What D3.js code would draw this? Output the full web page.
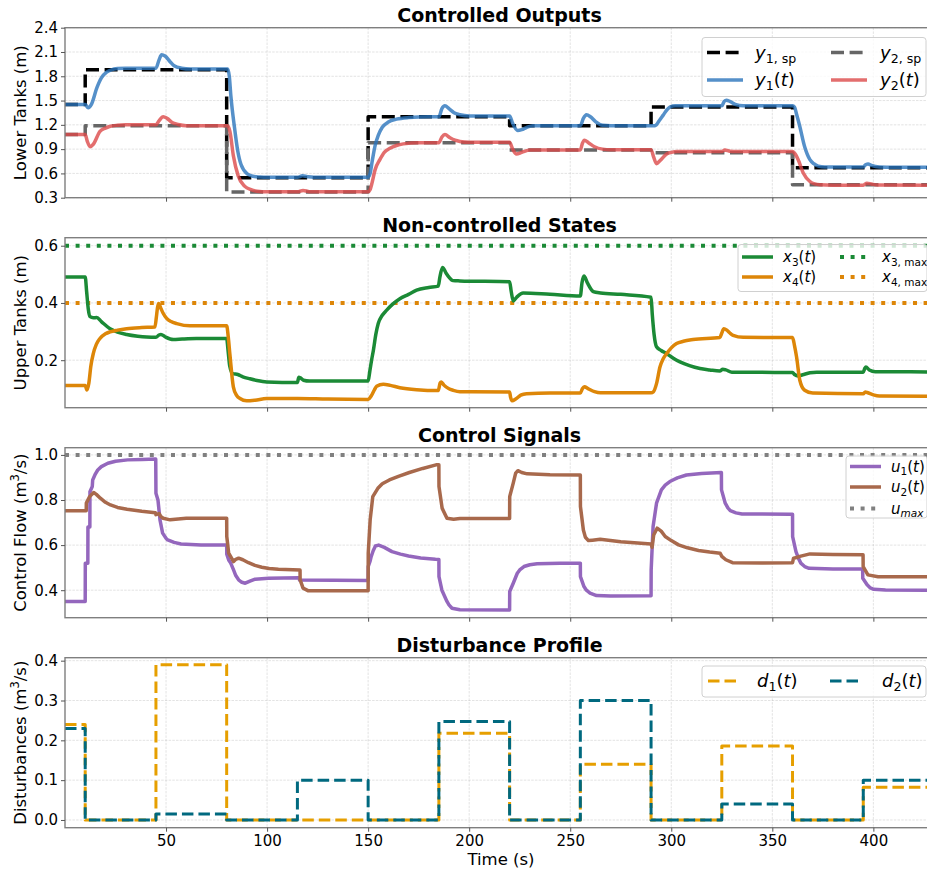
<!DOCTYPE html>
<html>
<head>
<meta charset="utf-8">
<script src="https://cdn.jsdelivr.net/npm/d3@7"></script>
<style>
  body { margin: 0; background: #fff; }
  svg { display: block; }
  text { font-family: "DejaVu Sans", sans-serif; fill: #000; }
</style>
</head>
<body>
<svg id="chart" width="927" height="873"></svg>
<script>
// ---------------- data ----------------
const timeTicks = [50, 100, 150, 200, 250, 300, 350, 400];

// set-point schedule (step changes)
const spTimes = [0, 10, 80, 150, 220, 290, 360, 430];
const y1Setpoint = [1.45, 1.88, 0.545, 1.30, 1.19, 1.42, 0.67, 0.67];
const y2Setpoint = [1.08, 1.19, 0.37, 0.98, 0.89, 0.855, 0.46, 0.46];

// lower tank levels [t, value]
const y1 = [[0,1.45],[10,1.45],[11.5,1.41],[13,1.45],[15.8,1.66],[18,1.78],[20.6,1.85],[23,1.88],[26,1.895],[30,1.90],[45,1.90],[46.5,2.0],[47.8,2.065],[49.5,2.05],[52,1.98],[54,1.93],[57.7,1.90],[62,1.89],[80.5,1.89],[81.3,1.8],[82.1,1.55],[83.8,1.18],[85.4,0.89],[87.1,0.71],[90.4,0.59],[93,0.565],[96.5,0.556],[100,0.553],[115,0.553],[117.5,0.57],[120,0.56],[123,0.553],[150,0.553],[151,0.6],[152,0.75],[153.5,0.95],[155,1.07],[157,1.17],[160,1.235],[164,1.27],[170,1.29],[180,1.30],[185,1.30],[186.5,1.40],[188,1.435],[190,1.40],[192.5,1.35],[195.4,1.325],[200,1.31],[220,1.31],[221.5,1.22],[224,1.13],[226,1.14],[228.5,1.17],[231.5,1.19],[255,1.19],[256.5,1.28],[258,1.325],[260,1.30],[262.5,1.24],[266,1.195],[270,1.19],[290,1.19],[292,1.19],[294,1.25],[296,1.32],[298,1.39],[299.3,1.42],[302,1.435],[325,1.435],[326.2,1.49],[327.3,1.505],[329,1.49],[332,1.45],[335.5,1.435],[360,1.435],[361,1.42],[362,1.33],[363.6,1.18],[366,0.93],[368.6,0.77],[370.5,0.72],[372.7,0.69],[376,0.68],[395,0.68],[396.3,0.71],[397.4,0.716],[399,0.70],[403,0.68],[410,0.675],[430,0.675]];
const y2 = [[0,1.08],[10,1.08],[11,1.0],[12.4,0.93],[14,0.96],[17.3,1.12],[20,1.16],[22,1.18],[26,1.195],[30,1.20],[45,1.20],[46.5,1.25],[48.6,1.30],[50.5,1.28],[53,1.23],[56,1.205],[60,1.19],[80.5,1.19],[81.6,1.12],[83.3,0.82],[85.7,0.57],[89,0.44],[92,0.40],[95,0.38],[100,0.372],[115,0.372],[117.8,0.39],[121,0.375],[150,0.372],[151,0.40],[151.7,0.46],[153.5,0.65],[155.8,0.77],[158,0.86],[160.8,0.91],[164,0.945],[167.4,0.965],[175,0.98],[185,0.98],[186.5,1.05],[188,1.08],[190.5,1.04],[193,1.01],[195.4,0.995],[200,0.985],[220,0.985],[221.5,0.90],[223.4,0.84],[226,0.86],[230,0.89],[255,0.89],[256,0.97],[257,1.01],[259,0.98],[262,0.93],[266,0.90],[270,0.893],[290,0.893],[291.3,0.80],[292.7,0.72],[294.5,0.76],[297.7,0.84],[300,0.86],[303,0.87],[325,0.87],[326.5,0.89],[329,0.875],[332,0.87],[360,0.87],[361,0.85],[362.8,0.77],[365.3,0.605],[368.6,0.50],[371,0.47],[373.5,0.46],[380,0.455],[395,0.455],[396.8,0.48],[399,0.47],[402,0.457],[430,0.455]];

// upper tank levels [t, value]
const x3 = [[0,0.491],[10,0.491],[10.7,0.44],[11.5,0.38],[12.4,0.352],[14,0.348],[15.7,0.349],[18,0.335],[22.3,0.31],[26,0.298],[30.5,0.29],[36,0.284],[40.4,0.281],[45,0.28],[46.5,0.288],[47.5,0.29],[49.5,0.282],[53.6,0.272],[58,0.274],[65,0.276],[80,0.276],[80.6,0.24],[81.5,0.18],[83,0.153],[85.5,0.15],[88,0.142],[91.5,0.135],[95,0.129],[99.8,0.124],[115,0.122],[115.7,0.14],[116.5,0.138],[118,0.13],[121,0.127],[150,0.127],[150.8,0.16],[151.7,0.2],[152.6,0.235],[153.8,0.29],[155,0.328],[157,0.357],[159.2,0.375],[162,0.395],[165.7,0.415],[170,0.43],[174,0.445],[180,0.454],[184.7,0.459],[185.5,0.49],[186.8,0.524],[188.5,0.505],[190,0.49],[192,0.478],[195.4,0.477],[220,0.474],[220.8,0.44],[221.8,0.407],[223.5,0.42],[226.7,0.435],[240,0.43],[255,0.424],[255.8,0.47],[256.8,0.494],[258.5,0.47],[261.4,0.44],[265,0.435],[275,0.43],[290,0.42],[290.6,0.36],[291.5,0.29],[292.7,0.247],[295,0.234],[297.7,0.223],[301,0.207],[304.3,0.194],[309,0.181],[314.2,0.171],[319,0.166],[324,0.162],[325.5,0.168],[327,0.166],[330,0.158],[360,0.157],[361,0.15],[362.8,0.145],[365,0.149],[368.6,0.156],[372,0.158],[395,0.158],[395.8,0.172],[396.3,0.176],[398,0.166],[401,0.16],[430,0.159]];
const x4 = [[0,0.112],[10,0.112],[10.8,0.096],[11.8,0.12],[12.8,0.18],[14,0.223],[15.5,0.255],[17.3,0.276],[20,0.292],[22.3,0.299],[26,0.305],[30.5,0.31],[38,0.314],[44.5,0.316],[45.2,0.35],[45.8,0.385],[46.3,0.398],[47.5,0.38],[48.5,0.365],[50.3,0.346],[52.5,0.335],[55.3,0.328],[61.8,0.32],[80,0.32],[80.8,0.28],[81.6,0.22],[83.3,0.107],[85,0.076],[86.6,0.066],[89.9,0.058],[94,0.06],[99.8,0.066],[115,0.066],[130,0.064],[150,0.063],[151.5,0.075],[153,0.095],[154.2,0.109],[157.5,0.116],[161,0.112],[165.7,0.104],[174,0.097],[184.7,0.094],[185.6,0.12],[186.2,0.124],[187.5,0.113],[190,0.1],[192,0.095],[195.4,0.09],[220,0.089],[220.5,0.07],[221.2,0.058],[223,0.064],[225.5,0.078],[228.4,0.083],[240,0.085],[255,0.085],[256,0.1],[257,0.107],[259,0.1],[262,0.09],[265,0.086],[290,0.086],[291.2,0.09],[292.7,0.118],[294.4,0.176],[296,0.205],[297.7,0.223],[300,0.243],[302.6,0.258],[306,0.266],[310.8,0.272],[324,0.279],[325,0.295],[326,0.31],[327.5,0.305],[329,0.295],[330.6,0.287],[335.6,0.28],[360,0.279],[361,0.25],[362,0.211],[363.6,0.13],[366,0.095],[370,0.085],[395,0.083],[396,0.089],[397,0.087],[400,0.079],[403,0.075],[430,0.074]];
const x3Max = 0.6;
const x4Max = 0.4;

// pump flows [t, value]
const u1 = [[0,0.35],[10,0.35],[10.05,0.52],[11.3,0.52],[11.35,0.68],[12.3,0.68],[12.35,0.837],[13.5,0.86],[13.7,0.889],[15,0.915],[16.2,0.933],[18,0.948],[21.2,0.963],[25,0.972],[31,0.978],[38,0.98],[44.9,0.982],[45,0.83],[46,0.80],[47,0.712],[48.3,0.653],[50,0.630],[50.8,0.623],[54,0.612],[57.4,0.605],[67.3,0.60],[80,0.60],[80.05,0.56],[81,0.534],[82,0.52],[83.4,0.49],[84.5,0.465],[85.9,0.446],[87.5,0.435],[89.2,0.431],[91.5,0.44],[94.1,0.449],[100.7,0.453],[116,0.455],[116.05,0.445],[150,0.443],[150.05,0.505],[151,0.53],[151.5,0.549],[152.5,0.575],[153.6,0.596],[155.2,0.60],[158,0.59],[161.8,0.571],[166,0.56],[170,0.552],[176,0.543],[183.3,0.537],[185,0.536],[185.05,0.46],[186.5,0.40],[188,0.37],[189,0.35],[190,0.335],[191.5,0.32],[195.4,0.313],[220,0.312],[220.05,0.394],[221.8,0.431],[223.8,0.475],[225,0.49],[227.1,0.505],[230,0.513],[233.6,0.517],[245,0.519],[255,0.52],[255.05,0.46],[256.8,0.416],[258,0.40],[259.8,0.387],[263,0.376],[270,0.374],[290,0.375],[290.05,0.49],[291,0.682],[292.7,0.786],[295.1,0.845],[297,0.866],[299.3,0.882],[303,0.898],[307.5,0.911],[315,0.918],[324.8,0.922],[324.85,0.845],[326.7,0.786],[328,0.765],[329.2,0.753],[332,0.743],[335,0.738],[358.8,0.737],[360,0.737],[360.05,0.638],[361.7,0.571],[363,0.54],[364.1,0.52],[366,0.505],[368.2,0.497],[380,0.494],[394.7,0.494],[394.75,0.453],[396.9,0.424],[398.5,0.41],[400.2,0.404],[406,0.401],[430,0.40]];
const u2 = [[0,0.752],[10.5,0.752],[10.55,0.786],[12.2,0.815],[14.2,0.833],[15.5,0.825],[17.5,0.808],[20,0.79],[22.5,0.778],[26,0.767],[30.7,0.759],[38,0.75],[44.7,0.744],[45,0.735],[46.5,0.74],[47.5,0.726],[48.6,0.719],[52,0.712],[56,0.716],[60,0.719],[80,0.719],[80.05,0.638],[81,0.564],[83.4,0.527],[84.5,0.537],[85.9,0.542],[88,0.535],[90.8,0.522],[94,0.51],[97.4,0.502],[101,0.496],[105.6,0.493],[116.3,0.49],[116.35,0.446],[117.8,0.409],[120.2,0.398],[130,0.397],[150,0.397],[150.05,0.564],[151,0.712],[152.3,0.815],[154.8,0.852],[157,0.872],[160.5,0.889],[165,0.905],[170.4,0.922],[177,0.94],[183.6,0.956],[185,0.956],[185.05,0.86],[186.6,0.764],[189,0.719],[192.3,0.715],[195.4,0.718],[220,0.718],[220.05,0.815],[221.8,0.875],[223,0.919],[224.1,0.93],[226,0.922],[228.7,0.916],[240,0.912],[255,0.911],[255.05,0.771],[256.5,0.667],[257.5,0.635],[259,0.62],[261,0.622],[264.8,0.626],[275,0.615],[290,0.605],[290.5,0.59],[291.3,0.645],[293,0.675],[295,0.662],[297,0.638],[300,0.62],[303.6,0.601],[308,0.588],[313.5,0.576],[319,0.569],[324.2,0.564],[325,0.55],[327,0.535],[330.3,0.522],[345,0.521],[360,0.522],[360.5,0.542],[362,0.545],[363.6,0.55],[368.6,0.561],[380,0.558],[394.9,0.557],[394.95,0.505],[397.3,0.468],[402.3,0.46],[430,0.46]];
const uMax = 1.0;

// disturbance schedule (piecewise constant)
const dTimes = [0, 10, 45, 80, 115, 150, 185, 220, 255, 290, 325, 360, 395, 430];
const d1 = [0.24, 0, 0.39, 0, 0, 0, 0.218, 0, 0.14, 0, 0.186, 0, 0.082, 0.082];
const d2 = [0.23, 0, 0.015, 0, 0.10, 0, 0.247, 0, 0.30, 0, 0.04, 0, 0.10, 0.10];

// ---------------- layout ----------------
const svg = d3.select("#chart");
const plotLeft = 65, plotRight = 934, panelH = 170;
const x = d3.scaleLinear().domain([0, 430]).range([plotLeft, plotRight]);

const stepPairs = (ts, vs) => ts.map((t, i) => [t, vs[i]]);

function mathLabel(g, px, py, parts, fs) {
  const t = g.append("text").attr("x", px).attr("y", py)
    .attr("dy", "0.35em").style("font-size", fs + "px");
  let shifted = false;
  parts.forEach(p => {
    const s = t.append("tspan").text(p.t);
    if (p.i) s.style("font-style", "italic");
    if (p.sub) {
      s.style("font-size", (fs * 0.7) + "px");
      if (!shifted) { s.attr("dy", fs * 0.22); shifted = true; }
    } else if (shifted) {
      s.attr("dy", -fs * 0.22); shifted = false;
    }
  });
  return t;
}

function makePanel(idx, top, yDomain, yTicks, fmt, title) {
  const y = d3.scaleLinear().domain(yDomain).range([top + panelH, top]);
  const g = svg.append("g");
  const clipId = "clip" + idx;
  svg.append("clipPath").attr("id", clipId).append("rect")
    .attr("x", plotLeft).attr("y", top).attr("width", plotRight - plotLeft).attr("height", panelH);

  // grid
  const grid = g.append("g").attr("stroke", "#b0b0b0").attr("stroke-opacity", 0.45)
    .attr("stroke-width", 0.8).attr("stroke-dasharray", "2.5,1.2");
  timeTicks.forEach(t => grid.append("line").attr("x1", x(t)).attr("x2", x(t))
    .attr("y1", top).attr("y2", top + panelH));
  yTicks.forEach(v => grid.append("line").attr("x1", plotLeft).attr("x2", plotRight)
    .attr("y1", y(v)).attr("y2", y(v)));

  const plot = g.append("g").attr("clip-path", `url(#${clipId})`);

  // frame
  g.append("rect").attr("x", plotLeft).attr("y", top).attr("width", plotRight - plotLeft)
    .attr("height", panelH).attr("fill", "none").attr("stroke", "#7f7f7f").attr("stroke-width", 1.4);

  // axes
  const yAxis = d3.axisLeft(y).tickValues(yTicks).tickFormat(d3.format(fmt)).tickSize(4).tickPadding(3);
  const ya = g.append("g").attr("transform", `translate(${plotLeft},0)`).call(yAxis);
  ya.select(".domain").remove();
  ya.selectAll(".tick line").attr("stroke", "#555");
  ya.selectAll(".tick text").style("font-size", "15px").style("font-family", '"DejaVu Sans", sans-serif');

  const xAxis = d3.axisBottom(x).tickValues(timeTicks).tickSize(4).tickPadding(4)
    .tickFormat(idx === 3 ? d3.format("d") : () => "");
  const xa = g.append("g").attr("transform", `translate(0,${top + panelH})`).call(xAxis);
  xa.select(".domain").remove();
  xa.selectAll(".tick line").attr("stroke", "#555");
  xa.selectAll(".tick text").style("font-size", "15px").style("font-family", '"DejaVu Sans", sans-serif');

  g.append("text").attr("x", (plotLeft + plotRight) / 2).attr("y", top - 5.5)
    .attr("text-anchor", "middle").style("font-size", "19px").style("font-weight", "bold").text(title);

  return { y, g, plot, top };
}

function drawLine(p, data, color, width, opts = {}) {
  const line = d3.line().x(d => x(d[0])).y(d => p.y(d[1])).curve(opts.curve || d3.curveMonotoneX);
  return p.plot.append("path").datum(data).attr("d", line).attr("fill", "none")
    .attr("stroke", color).attr("stroke-width", width)
    .attr("stroke-opacity", opts.opacity || 1)
    .attr("stroke-dasharray", opts.dash || null)
    .attr("stroke-linejoin", "round")
    .attr("stroke-linecap", opts.dash ? "butt" : "round");
}

function hline(p, v, color, width, dash) {
  p.plot.append("line").attr("x1", x(0)).attr("x2", x(430)).attr("y1", p.y(v)).attr("y2", p.y(v))
    .attr("stroke", color).attr("stroke-width", width).attr("stroke-dasharray", dash);
}

function yLabel(p, parts, fs) {
  const cy = p.top + panelH / 2;
  const t = svg.append("text").attr("transform", `translate(26,${cy}) rotate(-90)`)
    .attr("text-anchor", "middle").style("font-size", fs + "px");
  parts.forEach(part => {
    const s = t.append("tspan").text(part.t);
    if (part.sup) s.style("font-size", (fs * 0.7) + "px").attr("dy", -fs * 0.4);
    if (part.back) s.attr("dy", fs * 0.4);
  });
}

function legend(box, items, fs) {
  const g = svg.append("g");
  g.append("rect").attr("x", box.x).attr("y", box.y).attr("width", box.w).attr("height", box.h)
    .attr("rx", 3).attr("fill", "#fff").attr("fill-opacity", 0.8)
    .attr("stroke", "#d0d0d0").attr("stroke-width", 1);
  items.forEach(it => {
    g.append("line").attr("x1", it.x1).attr("x2", it.x2).attr("y1", it.y).attr("y2", it.y)
      .attr("stroke", it.color).attr("stroke-width", it.width)
      .attr("stroke-opacity", it.opacity || 1)
      .attr("stroke-dasharray", it.dash || null);
    mathLabel(g, it.tx, it.y, it.label, fs);
  });
}

// ---------------- colours ----------------
const C = {
  y1: "#2b74bc", y2: "#dc4a4a", sp1: "#000000", sp2: "#666666",
  x3: "#1b8a36", x4: "#dd8608",
  u1: "#9467bd", u2: "#a8694c", umax: "#808080",
  d1: "#E69F00", d2: "#00697f"
};
const DASH = "13,5.6", DOT = "4,6.6", DDASH = "11.5,5";

// ---------------- panel 1: controlled outputs ----------------
const p1 = makePanel(0, 27.7, [0.3, 2.4], d3.range(0.3, 2.41, 0.3), ".1f", "Controlled Outputs");
drawLine(p1, stepPairs(spTimes, y1Setpoint), C.sp1, 3.5, { curve: d3.curveStepAfter, dash: DASH });
drawLine(p1, stepPairs(spTimes, y2Setpoint), C.sp2, 3.5, { curve: d3.curveStepAfter, dash: DASH });
drawLine(p1, y1, C.y1, 3.5, { opacity: 0.8 });
drawLine(p1, y2, C.y2, 3.5, { opacity: 0.8 });
yLabel(p1, [{ t: "Lower Tanks (m)" }], 16.5);
legend({ x: 702, y: 37.5, w: 224, h: 59 }, [
  { x1: 707, x2: 743, y: 52.5, color: C.sp1, width: 3.5, dash: DASH, tx: 755,
    label: [{ t: "y", i: true }, { t: "1, sp", sub: true }] },
  { x1: 831, x2: 867, y: 52.5, color: C.sp2, width: 3.5, dash: DASH, tx: 880,
    label: [{ t: "y", i: true }, { t: "2, sp", sub: true }] },
  { x1: 707, x2: 743, y: 80, color: C.y1, width: 3.5, opacity: 0.8, tx: 755,
    label: [{ t: "y", i: true }, { t: "1", sub: true }, { t: "(" }, { t: "t", i: true }, { t: ")" }] },
  { x1: 831, x2: 867, y: 80, color: C.y2, width: 3.5, opacity: 0.8, tx: 880,
    label: [{ t: "y", i: true }, { t: "2", sub: true }, { t: "(" }, { t: "t", i: true }, { t: ")" }] }
], 18);

// ---------------- panel 2: non-controlled states ----------------
const p2 = makePanel(1, 237.7, [0.034, 0.628], [0.2, 0.4, 0.6], ".1f", "Non-controlled States");
hline(p2, x3Max, C.x3, 4, DOT);
hline(p2, x4Max, C.x4, 4, DOT);
drawLine(p2, x3, C.x3, 3.5);
drawLine(p2, x4, C.x4, 3.5);
yLabel(p2, [{ t: "Upper Tanks (m)" }], 16.5);
legend({ x: 738, y: 244.5, w: 189, h: 47 }, [
  { x1: 742, x2: 773, y: 257, color: C.x3, width: 3.5, tx: 783,
    label: [{ t: "x", i: true }, { t: "3", sub: true }, { t: "(" }, { t: "t", i: true }, { t: ")" }] },
  { x1: 840, x2: 870, y: 257, color: C.x3, width: 4, dash: DOT, tx: 882,
    label: [{ t: "x", i: true }, { t: "3, max", sub: true }] },
  { x1: 742, x2: 773, y: 277, color: C.x4, width: 3.5, tx: 783,
    label: [{ t: "x", i: true }, { t: "4", sub: true }, { t: "(" }, { t: "t", i: true }, { t: ")" }] },
  { x1: 840, x2: 870, y: 277, color: C.x4, width: 4, dash: DOT, tx: 882,
    label: [{ t: "x", i: true }, { t: "4, max", sub: true }] }
], 15);

// ---------------- panel 3: control signals ----------------
const p3 = makePanel(2, 447.7, [0.278, 1.032], [0.4, 0.6, 0.8, 1.0], ".1f", "Control Signals");
hline(p3, uMax, C.umax, 4, DOT);
drawLine(p3, u1, C.u1, 3.5, { curve: d3.curveLinear });
drawLine(p3, u2, C.u2, 3.5, { curve: d3.curveLinear });
yLabel(p3, [{ t: "Control Flow (m" }, { t: "3", sup: true }, { t: "/s)", back: true }], 16.5);
legend({ x: 846, y: 456, w: 81, h: 62 }, [
  { x1: 850, x2: 881, y: 466.5, color: C.u1, width: 3.5, tx: 891,
    label: [{ t: "u", i: true }, { t: "1", sub: true }, { t: "(" }, { t: "t", i: true }, { t: ")" }] },
  { x1: 850, x2: 881, y: 487, color: C.u2, width: 3.5, tx: 891,
    label: [{ t: "u", i: true }, { t: "2", sub: true }, { t: "(" }, { t: "t", i: true }, { t: ")" }] },
  { x1: 850, x2: 881, y: 508.5, color: C.umax, width: 4, dash: DOT, tx: 891,
    label: [{ t: "u", i: true }, { t: "max", sub: true, i: true }] }
], 15);

// ---------------- panel 4: disturbance profile ----------------
const p4 = makePanel(3, 657.7, [-0.0194, 0.4075], [0, 0.1, 0.2, 0.3, 0.4], ".1f", "Disturbance Profile");
drawLine(p4, stepPairs(dTimes, d1), C.d1, 3, { curve: d3.curveStepAfter, dash: DDASH });
drawLine(p4, stepPairs(dTimes, d2), C.d2, 3, { curve: d3.curveStepAfter, dash: DDASH });
yLabel(p4, [{ t: "Disturbances (m" }, { t: "3", sup: true }, { t: "/s)", back: true }], 16.5);
legend({ x: 702, y: 666, w: 224, h: 31 }, [
  { x1: 708, x2: 741, y: 681, color: C.d1, width: 3, dash: DDASH, tx: 757,
    label: [{ t: "d", i: true }, { t: "1", sub: true }, { t: "(" }, { t: "t", i: true }, { t: ")" }] },
  { x1: 830, x2: 863, y: 681, color: C.d2, width: 3, dash: DDASH, tx: 882,
    label: [{ t: "d", i: true }, { t: "2", sub: true }, { t: "(" }, { t: "t", i: true }, { t: ")" }] }
], 18);

svg.append("text").attr("x", 501).attr("y", 865)
  .attr("text-anchor", "middle").style("font-size", "16.5px").text("Time (s)");
</script>
</body>
</html>
